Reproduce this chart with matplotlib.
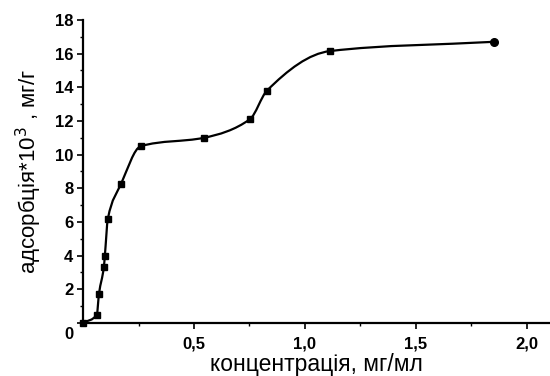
import numpy as np
import matplotlib
matplotlib.use('Agg')
import matplotlib.pyplot as plt
from matplotlib.path import Path
import matplotlib.patches as mpatches
import matplotlib.transforms as mtransforms

plt.rcParams['font.family'] = ['Liberation Sans', 'DejaVu Sans']

# дані ізотерми адсорбції
conc = [0.0, 0.062, 0.072, 0.094, 0.098, 0.112, 0.171, 0.26, 0.545, 0.752, 0.829, 1.113, 1.851]
adsorb = [0.0, 0.5, 1.75, 3.35, 3.95, 6.2, 8.25, 10.5, 11.0, 12.1, 13.8, 16.15, 16.7]

x_ticks = [0.5, 1.0, 1.5, 2.0]
x_labels = ['0,5', '1,0', '1,5', '2,0']
y_ticks = [0, 2, 4, 6, 8, 10, 12, 14, 16, 18]


def pchip_slopes(x, y):
    x = np.asarray(x, float); y = np.asarray(y, float)
    h = np.diff(x); d = np.diff(y) / h
    m = np.zeros_like(x)
    for k in range(1, len(x) - 1):
        if d[k-1] * d[k] <= 0:
            m[k] = 0
        else:
            w1 = 2*h[k] + h[k-1]; w2 = h[k] + 2*h[k-1]
            m[k] = (w1 + w2) / (w1/d[k-1] + w2/d[k])
    m[0] = d[0]; m[-1] = d[-1]
    return m


def smooth_path(x, y):
    # кубічні криві Безьє через точки (монотонний сплайн)
    m = pchip_slopes(x, y)
    verts = [(x[0], y[0])]
    codes = [Path.MOVETO]
    for k in range(len(x) - 1):
        h = x[k+1] - x[k]
        verts += [(x[k] + h/3, y[k] + m[k]*h/3),
                  (x[k+1] - h/3, y[k+1] - m[k+1]*h/3),
                  (x[k+1], y[k+1])]
        codes += [Path.CURVE4] * 3
    return Path(verts, codes)


fig = plt.figure(figsize=(5.5, 3.76), dpi=100)
ax = fig.add_axes([0.151, 0.141, 0.847, 0.806])

ax.add_patch(mpatches.PathPatch(smooth_path(conc, adsorb), fc='none', ec='black', lw=1.6, zorder=3))
ax.plot(conc[:-1], adsorb[:-1], 's', color='black', ms=4.5, zorder=4, clip_on=False)
ax.plot(conc[-1:], adsorb[-1:], 'o', color='black', ms=5.5, zorder=4)

ax.set_xlim(0, 2.1)
ax.set_ylim(0, 18)
ax.set_xticks(x_ticks)
ax.set_xticklabels(x_labels)
ax.set_xticks([0.25, 0.75, 1.25, 1.75], minor=True)
ax.set_yticks(y_ticks)
ax.set_yticks(np.arange(1, 18, 2), minor=True)

for s in ['top', 'right']:
    ax.spines[s].set_visible(False)
for s in ['left', 'bottom']:
    ax.spines[s].set_linewidth(1.6)

ax.tick_params(which='major', direction='out', length=4, width=1.2, labelsize=12)
ax.tick_params(axis='x', which='major', pad=6)
ax.tick_params(axis='y', which='major', pad=3)
ax.tick_params(which='minor', direction='out', length=2.5, width=1)
for t in ax.get_xticklabels() + ax.get_yticklabels():
    t.set_fontweight('bold')

# підпис "0" у початку координат
lbl0 = ax.get_yticklabels()[0]
lbl0.set_transform(lbl0.get_transform() + mtransforms.ScaledTranslation(0, -0.1, fig.dpi_scale_trans))

ax.set_xlabel('концентрація, мг/мл', fontsize=16.5, labelpad=1)
ax.set_ylabel('адсорбція*10$^3$ , мг/г', fontsize=16, labelpad=8)

fig.savefig('out.png', dpi=100)
